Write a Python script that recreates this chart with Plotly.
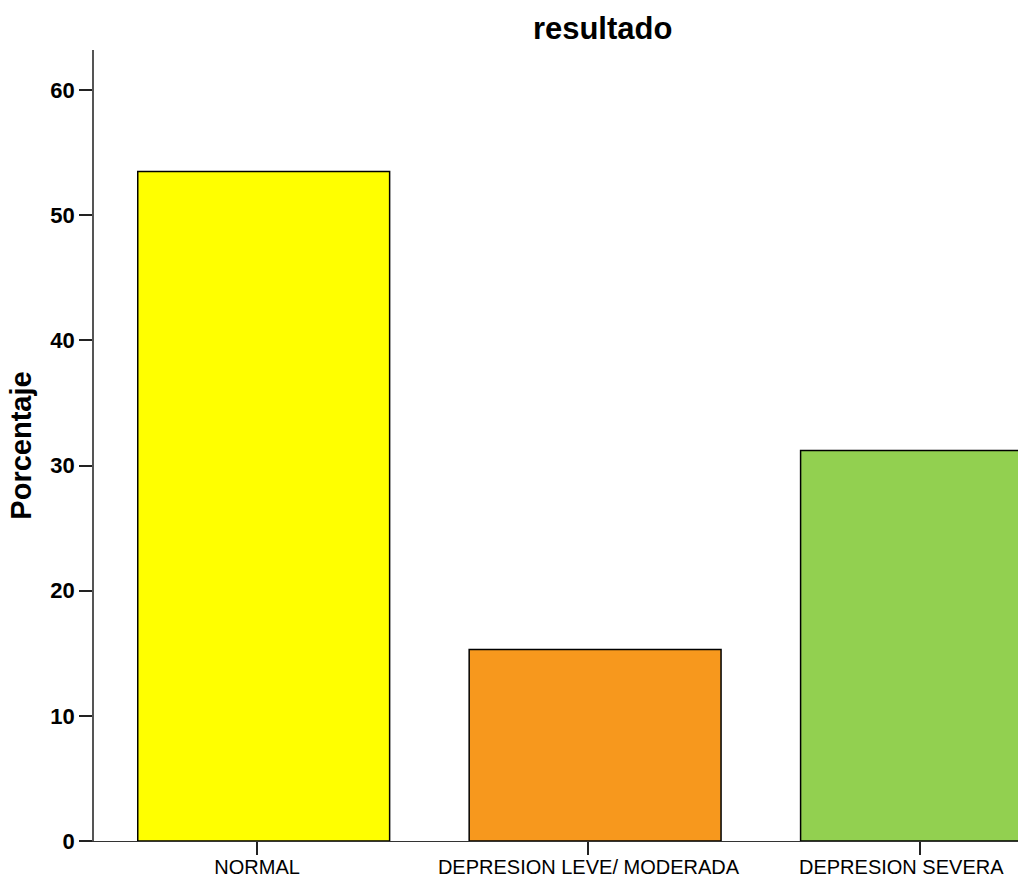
import plotly.graph_objects as go

categories = ["NORMAL", "DEPRESION LEVE/ MODERADA", "DEPRESION SEVERA"]
percentages = [53.5, 15.3, 31.2]
colors = ["#FFFF00", "#F7981D", "#92D050"]
y_ticks = [0, 10, 20, 30, 40, 50, 60]

# last category label is drawn as an annotation, nudged left (as in the reference) to fit the page
tick_text = categories[:-1] + [""]

fig = go.Figure()
fig.add_trace(go.Bar(
    x=categories,
    y=percentages,
    marker=dict(color=colors, line=dict(color="black", width=1.5)),
    width=0.76,
    offset=-0.36,
    showlegend=False,
))

fig.add_annotation(
    x=categories[-1], y=0, xref="x", yref="y",
    text=categories[-1], showarrow=False,
    xanchor="center", yanchor="top", xshift=-18, yshift=-13,
    font=dict(family="Liberation Sans, Arial", size=20, color="black"),
)

fig.update_layout(
    width=1018, height=878,
    margin=dict(l=94, r=0, t=50, b=37),
    paper_bgcolor="white", plot_bgcolor="white",
    title=dict(text="<b>resultado</b>", xref="container", x=0.592, xanchor="center",
               yref="container", y=0.968, yanchor="middle",
               font=dict(family="Liberation Sans, Arial", size=31, color="black")),
    font=dict(family="Liberation Sans, Arial", color="black"),
)
fig.update_xaxes(
    range=[-0.492, 2.296],
    automargin=False,
    tickvals=categories, ticktext=tick_text,
    showline=True, linecolor="#333333", linewidth=1,
    ticks="outside", ticklen=13, tickwidth=2, tickcolor="#222222",
    ticklabelstandoff=-5,
    tickfont=dict(family="Liberation Sans, Arial", size=20, color="black"),
    showgrid=False, zeroline=False,
)
fig.update_yaxes(
    range=[0, 63.2],
    automargin=False,
    tickvals=y_ticks,
    showline=True, linecolor="#555555", linewidth=1.5,
    ticks="outside", ticklen=13, tickwidth=2, tickcolor="#222222",
    ticklabelstandoff=0,
    tickfont=dict(family="Liberation Sans, Arial", size=22, color="black", weight="bold"),
    title=dict(text="<b>Porcentaje</b>", font=dict(family="Liberation Sans, Arial", size=29, color="black"), standoff=10),
    showgrid=False, zeroline=False,
)

fig.write_html("out.html")
